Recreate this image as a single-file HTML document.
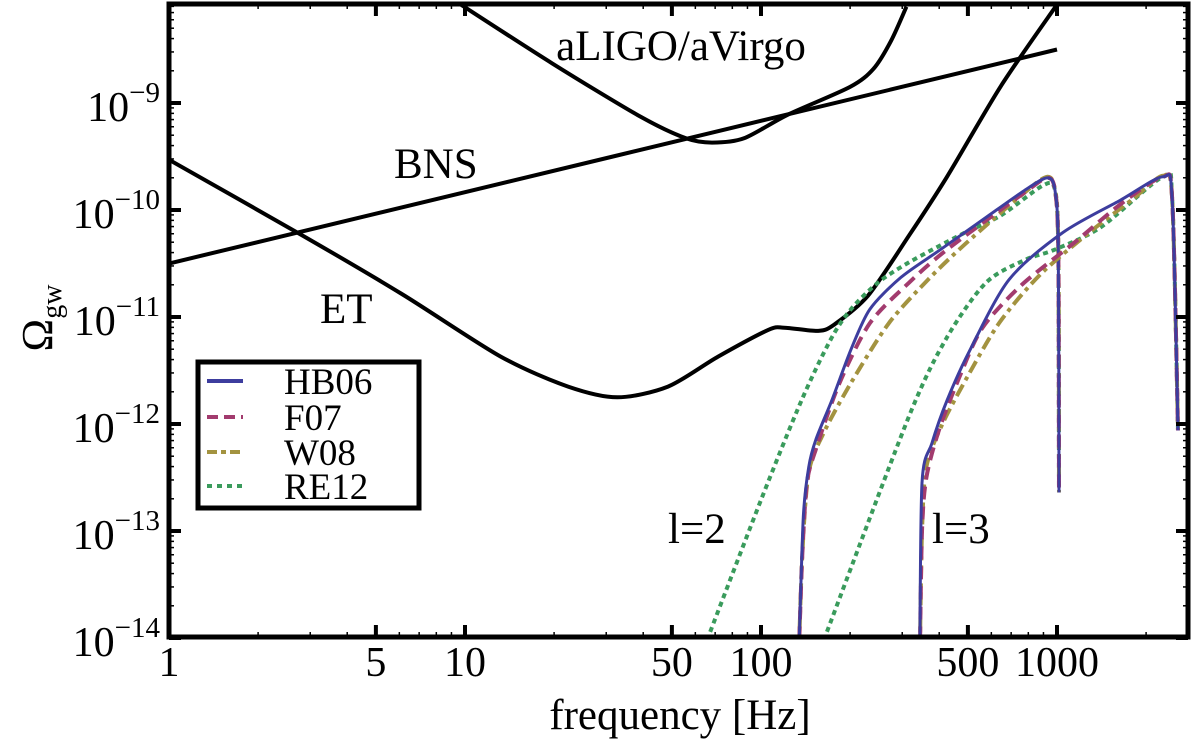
<!DOCTYPE html>
<html><head><meta charset="utf-8"><style>
html,body{margin:0;padding:0;background:#fff;}
svg{display:block;font-family:"Liberation Serif","DejaVu Serif",serif;}
</style></head><body>
<svg id="chart" width="1200" height="741" viewBox="0 0 1200 741">
<defs><clipPath id="plotclip"><rect x="169" y="4" width="1019" height="633"/></clipPath></defs>
<g id="curves" clip-path="url(#plotclip)"></g>
<g id="axes"></g>
</svg>
<script>
// ---- data (frequency in Hz, log10 Omega_gw) ----
const bnsF = [1, 1000];
const bnsO = [-10.50, -8.50];
const ligoF = [9.55, 19.7, 39.3, 55.8, 68.3, 87.6, 123, 200, 240, 275, 310];
const ligoO = [-8.07, -8.63, -9.13, -9.33, -9.37, -9.33, -9.11, -8.85, -8.68, -8.42, -8.10];
const etF = [1, 2.79, 6.08, 13.2, 22.3, 32.7, 48.5, 71.6, 106, 120, 156, 177, 230, 316, 425, 647, 1000];
const etO = [-9.53, -10.23, -10.78, -11.37, -11.65, -11.75, -11.65, -11.37, -11.12, -11.10, -11.13, -11.07, -10.80, -10.24, -9.69, -8.84, -8.08];

const hb06l2F = [134, 139, 145, 153, 174, 201, 233, 297, 399, 575, 774, 925, 984, 1010, 1016];
const hb06l2O = [-14.2, -12.87, -12.40, -12.15, -11.77, -11.31, -10.93, -10.63, -10.38, -10.07, -9.82, -9.70, -9.81, -10.37, -12.64];
const f07l2F = [134, 138, 143, 153, 184, 233, 316, 425, 774, 925, 984, 1010, 1016];
const f07l2O = [-14.2, -13.2, -12.55, -12.24, -11.62, -11.06, -10.68, -10.37, -9.84, -9.70, -9.81, -10.37, -12.64];
const w08l2F = [134, 138, 145, 163, 201, 270, 367, 493, 774, 925, 984, 1010, 1016];
const w08l2O = [-14.2, -13.2, -12.45, -12.08, -11.62, -11.06, -10.65, -10.31, -9.84, -9.69, -9.81, -10.37, -12.64];
const re12l2F = [65.7, 100, 137, 172, 201, 248, 316, 474, 647, 897, 984, 1010, 1016];
const re12l2O = [-14.02, -12.71, -11.78, -11.21, -10.93, -10.68, -10.49, -10.23, -10.05, -9.77, -9.81, -10.37, -12.64];

const hb06l3F = [344, 350, 378, 425, 508, 689, 1047, 1633, 2280, 2450, 2563];
const hb06l3O = [-14.2, -12.55, -12.18, -11.78, -11.31, -10.65, -10.21, -9.91, -9.69, -9.90, -12.06];
const f07l3F = [344, 350, 362, 400, 470, 560, 760, 1150, 1633, 2280, 2450, 2563];
const f07l3O = [-14.2, -13.0, -12.50, -12.05, -11.55, -11.10, -10.70, -10.30, -9.95, -9.69, -9.90, -12.06];
const w08l3F = [344, 350, 362, 410, 500, 640, 880, 1300, 1800, 2280, 2450, 2563];
const w08l3O = [-14.2, -13.0, -12.40, -12.00, -11.55, -11.05, -10.60, -10.20, -9.90, -9.68, -9.90, -12.06];
const re12l3F = [163, 316, 425, 575, 774, 984, 1408, 2280, 2450, 2563];
const re12l3O = [-14.02, -11.93, -11.19, -10.68, -10.47, -10.37, -10.16, -9.69, -9.90, -12.06];

const xTicks = [1, 5, 10, 50, 100, 500, 1000];
const xTickLabels = ["1", "5", "10", "50", "100", "500", "1000"];
const yTicks = [-9, -10, -11, -12, -13, -14];
const legendNames = ["HB06", "F07", "W08", "RE12"];

// ---- scales ----
const X0 = 169, DX = 296, Y9 = 103, DY = 107;
function xs(f){ return X0 + Math.log10(f) * DX; }
function ys(e){ return Y9 - (e + 9) * DY; }

const NS = "http://www.w3.org/2000/svg";
const curves = document.getElementById('curves');
const axes = document.getElementById('axes');
function mk(tag, attrs, parent){ const e = document.createElementNS(NS, tag); for (const k in attrs) e.setAttribute(k, attrs[k]); parent.appendChild(e); return e; }

const colors = {HB06:"#3d3d9e", F07:"#a23b6e", W08:"#a39340", RE12:"#3a9b5c"};
const dashes = {HB06:"", F07:"13 7", W08:"13 5 4 5", RE12:"5 4"};

function smoothPath(F, O){
  const P = F.map((f, i) => [xs(f), ys(O[i])]);
  let d = "M" + P[0][0].toFixed(1) + "," + P[0][1].toFixed(1);
  const k = 0.14;
  for (let i = 0; i < P.length - 1; i++) {
    const p0 = P[Math.max(0, i - 1)], p1 = P[i], p2 = P[i + 1], p3 = P[Math.min(P.length - 1, i + 2)];
    const c1 = [p1[0] + (p2[0] - p0[0]) * k, p1[1] + (p2[1] - p0[1]) * k];
    const c2 = [p2[0] - (p3[0] - p1[0]) * k, p2[1] - (p3[1] - p1[1]) * k];
    d += "C" + c1[0].toFixed(1) + "," + c1[1].toFixed(1) + " " + c2[0].toFixed(1) + "," + c2[1].toFixed(1) + " " + p2[0].toFixed(1) + "," + p2[1].toFixed(1);
  }
  return d;
}
function drawLine(F, O, stroke, width, dash, name){
  const p = mk('path', {d: smoothPath(F, O), fill: "none", stroke: stroke, "stroke-width": width, "stroke-linejoin": "round"}, curves);
  if (dash) p.setAttribute('stroke-dasharray', dash);
  
  
}
drawLine(bnsF, bnsO, "#000", 4, "", "bns-curve");
drawLine(ligoF, ligoO, "#000", 4, "", "aligo-curve");
drawLine(etF, etO, "#000", 4, "", "et-curve");
const series = [
  ["RE12", re12l2F, re12l2O, "l2"], ["W08", w08l2F, w08l2O, "l2"], ["F07", f07l2F, f07l2O, "l2"], ["HB06", hb06l2F, hb06l2O, "l2"],
  ["RE12", re12l3F, re12l3O, "l3"], ["W08", w08l3F, w08l3O, "l3"], ["F07", f07l3F, f07l3O, "l3"], ["HB06", hb06l3F, hb06l3O, "l3"]
];
for (const s of series) drawLine(s[1], s[2], colors[s[0]], s[0]==="HB06"?3:4, dashes[s[0]], s[0].toLowerCase()+"-"+s[3]+"-curve");

function txt(x, y, s, size, name, anchor){
  const t = mk('text', {x: x, y: y, "font-size": size, fill: "#000", "text-anchor": anchor || "start"}, axes);
  t.textContent = s;
  
  
  return t;
}
txt(681, 60, "aLIGO/aVirgo", 43, "aligo-label", "middle");
txt(394, 178, "BNS", 43, "bns-label");
txt(320, 323, "ET", 43, "et-label");
txt(668, 543, "l=2", 43, "l2-label");
txt(932, 543, "l=3", 43, "l3-label");

const frame = mk('rect', {x: 169, y: 4, width: 1019, height: 633, fill: "none", stroke: "#000", "stroke-width": 5}, axes);


for (let dec = 0; dec < 4; dec++) for (let m = 1; m < 10; m++) {
  const f = m * Math.pow(10, dec); const x = xs(f); if (x > 1186 || x < 170) continue;
  const major = xTicks.indexOf(f) >= 0; const L = major ? 12 : 5;
  const w = major ? 4 : 1.5;
  const t1 = mk('line', {x1: x, y1: 637, x2: x, y2: 637 - L, stroke: "#000", "stroke-width": w}, axes);
  
  
  const t2 = mk('line', {x1: x, y1: 4, x2: x, y2: 4 + L, stroke: "#000", "stroke-width": w}, axes);
  
  
}
for (let i = 0; i < xTicks.length; i++) txt(xs(xTicks[i]), 676, xTickLabels[i], 42, "x-tick-label", "middle");
for (let e = -14; e <= -9; e++) for (let m = 1; m < 10; m++) {
  const v = e + Math.log10(m); const y = ys(v); if (y < 6) continue;
  const major = m === 1; const L = major ? 12 : 5; const w = major ? 4 : 1.5;
  const a = mk('line', {x1: 169, y1: y, x2: 169 + L, y2: y, stroke: "#000", "stroke-width": w}, axes);
  
  
  const b = mk('line', {x1: 1188, y1: y, x2: 1188 - L, y2: y, stroke: "#000", "stroke-width": w}, axes);
  
  
}
for (const e of yTicks) {
  const t = mk('text', {x: 160, y: ys(e) + 18, "font-size": 42, "text-anchor": "end"}, axes);
  
  
  t.textContent = "10";
  const s = mk('tspan', {"font-size": 29, dy: -19}, t);
  s.textContent = "\u2212" + (-e);
}
txt(680, 729, "frequency [Hz]", 43, "x-axis-title", "middle");
const yt = mk('text', {transform: "translate(52,318) rotate(-90)", "font-size": 44, "text-anchor": "middle"}, axes);


yt.textContent = "\u03A9";
const ysub = mk('tspan', {"font-size": 28, dy: 9}, yt); ysub.textContent = "gw";

const lg = mk('g', {}, axes);


const lr = mk('rect', {x: 198, y: 362, width: 221, height: 146, fill: "#fff", stroke: "#000", "stroke-width": 5}, lg);


const ly = [381, 417, 452, 486];
for (let i = 0; i < legendNames.length; i++) {
  const n = legendNames[i];
  const l = mk('line', {x1: 207, y1: ly[i], x2: 243, y2: ly[i], stroke: colors[n], "stroke-width": 4}, lg);
  if (dashes[n]) l.setAttribute('stroke-dasharray', n==="F07"?"11 6":(n==="W08"?"10 4 5 4":"5 5"));
  
  
  const t = mk('text', {x: 284, y: ly[i] + 13, "font-size": 37}, lg);
  t.textContent = n;
  
  
}
</script>
</body></html>
